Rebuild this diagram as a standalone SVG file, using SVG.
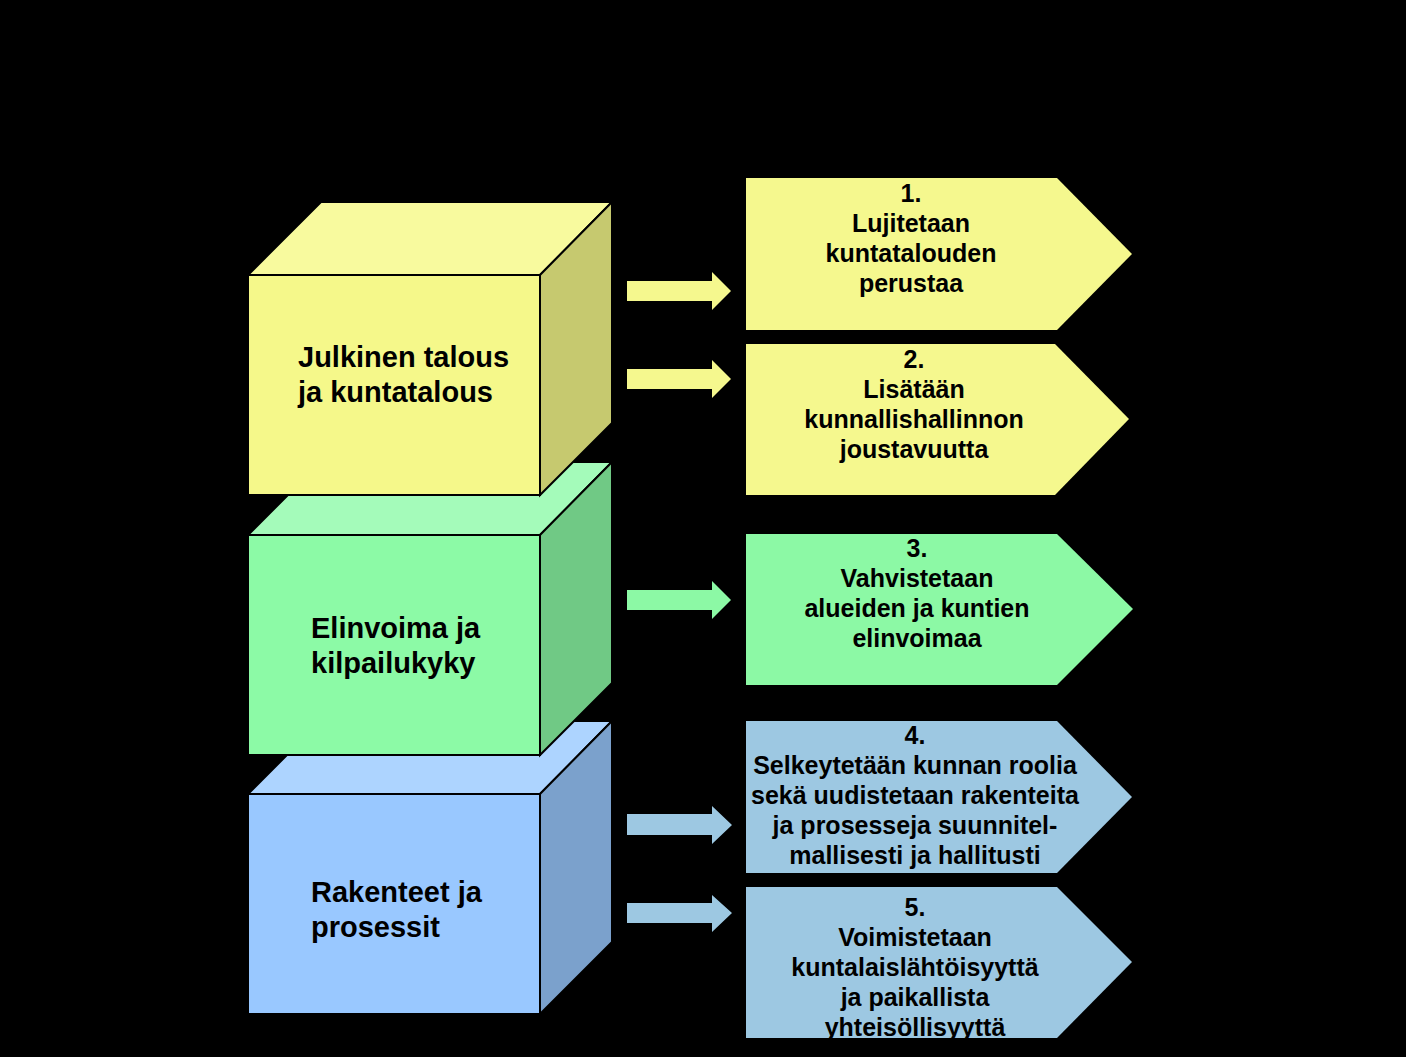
<svg xmlns="http://www.w3.org/2000/svg" width="1406" height="1057" viewBox="0 0 1406 1057">
<defs>
<style>
.edge{stroke:#000;stroke-width:2;stroke-linejoin:miter}
.ct{font-family:"Liberation Sans",Arial,sans-serif;font-weight:bold;font-size:29px;fill:#000}
.pt{font-family:"Liberation Sans",Arial,sans-serif;font-weight:bold;font-size:25px;fill:#000;text-anchor:middle}
.y1{fill:#F5F88A}.y2{fill:#F8FA9E}.y3{fill:#C6C96F}
.g1{fill:#8CFAA6}.g2{fill:#A4FBBA}.g3{fill:#70C985}
.b1{fill:#99C8FF}.b2{fill:#ADD4FF}.b3{fill:#7BA1CC}
.py{fill:#F5F88E}.pg{fill:#8CF9A5}.pb{fill:#9DC8E2}
</style>
<clipPath id="clip5"><polygon points="746,887 1057,887 1132,962 1057,1038 746,1038"/></clipPath>
</defs>
<rect width="1406" height="1057" fill="#000"/>

<g id="cube3">
<polygon class="b2 edge" points="248,794 321,721 612,721 540,794"/>
<polygon class="b3 edge" points="540,794 612,721 612,942 540,1014"/>
<rect class="b1 edge" x="248" y="794" width="292" height="220"/>
<text class="ct" x="311" y="902">Rakenteet ja</text>
<text class="ct" x="311" y="937">prosessit</text>
</g>

<g id="cube2">
<polygon class="g2 edge" points="248,535 321,462 612,462 540,535"/>
<polygon class="g3 edge" points="540,535 612,462 612,683 540,755"/>
<rect class="g1 edge" x="248" y="535" width="292" height="220"/>
<text class="ct" x="311" y="638">Elinvoima ja</text>
<text class="ct" x="311" y="673">kilpailukyky</text>
</g>

<g id="cube1">
<polygon class="y2 edge" points="248,275 321,202 612,202 540,275"/>
<polygon class="y3 edge" points="540,275 612,202 612,423 540,495"/>
<rect class="y1 edge" x="248" y="275" width="292" height="220"/>
<text class="ct" x="298" y="367">Julkinen talous</text>
<text class="ct" x="298" y="402">ja kuntatalous</text>
</g>

<g id="connectors">
<polygon class="py" points="627,281 712,281 712,272 731,291 712,310 712,301 627,301"/>
<polygon class="py" points="627,369 712,369 712,360 731,379 712,398 712,389 627,389"/>
<polygon class="pg" points="627,590 712,590 712,581 731,600 712,619 712,610 627,610"/>
<polygon class="pb" points="627,814 712,814 712,806 732,825 712,844 712,835 627,835"/>
<polygon class="pb" points="627,903 712,903 712,895 732,913 712,932 712,923 627,923"/>
</g>

<g id="goal1">
<polygon class="py" points="746,178 1057,178 1132,254 1057,330 746,330"/>
<text class="pt" x="911" y="202">1.</text>
<text class="pt" x="911" y="232">Lujitetaan</text>
<text class="pt" x="911" y="262">kuntatalouden</text>
<text class="pt" x="911" y="292">perustaa</text>
</g>

<g id="goal2">
<polygon class="py" points="746,344 1055,344 1129,419 1055,495 746,495"/>
<text class="pt" x="914" y="368">2.</text>
<text class="pt" x="914" y="398">Lisätään</text>
<text class="pt" x="914" y="428">kunnallishallinnon</text>
<text class="pt" x="914" y="458">joustavuutta</text>
</g>

<g id="goal3">
<polygon class="pg" points="746,534 1057,534 1133,609 1057,685 746,685"/>
<text class="pt" x="917" y="557">3.</text>
<text class="pt" x="917" y="587">Vahvistetaan</text>
<text class="pt" x="917" y="617">alueiden ja kuntien</text>
<text class="pt" x="917" y="647">elinvoimaa</text>
</g>

<g id="goal4">
<polygon class="pb" points="746,721 1057,721 1132,797 1057,873 746,873"/>
<text class="pt" x="915" y="744">4.</text>
<text class="pt" x="915" y="774">Selkeytetään kunnan roolia</text>
<text class="pt" x="915" y="804">sekä uudistetaan rakenteita</text>
<text class="pt" x="915" y="834">ja prosesseja suunnitel-</text>
<text class="pt" x="915" y="864">mallisesti ja hallitusti</text>
</g>

<g id="goal5">
<polygon class="pb" points="746,887 1057,887 1132,962 1057,1038 746,1038"/>
<g clip-path="url(#clip5)">
<text class="pt" x="915" y="916">5.</text>
<text class="pt" x="915" y="946">Voimistetaan</text>
<text class="pt" x="915" y="976">kuntalaislähtöisyyttä</text>
<text class="pt" x="915" y="1006">ja paikallista</text>
<text class="pt" x="915" y="1036">yhteisöllisyyttä</text>
</g>
</g>
</svg>
